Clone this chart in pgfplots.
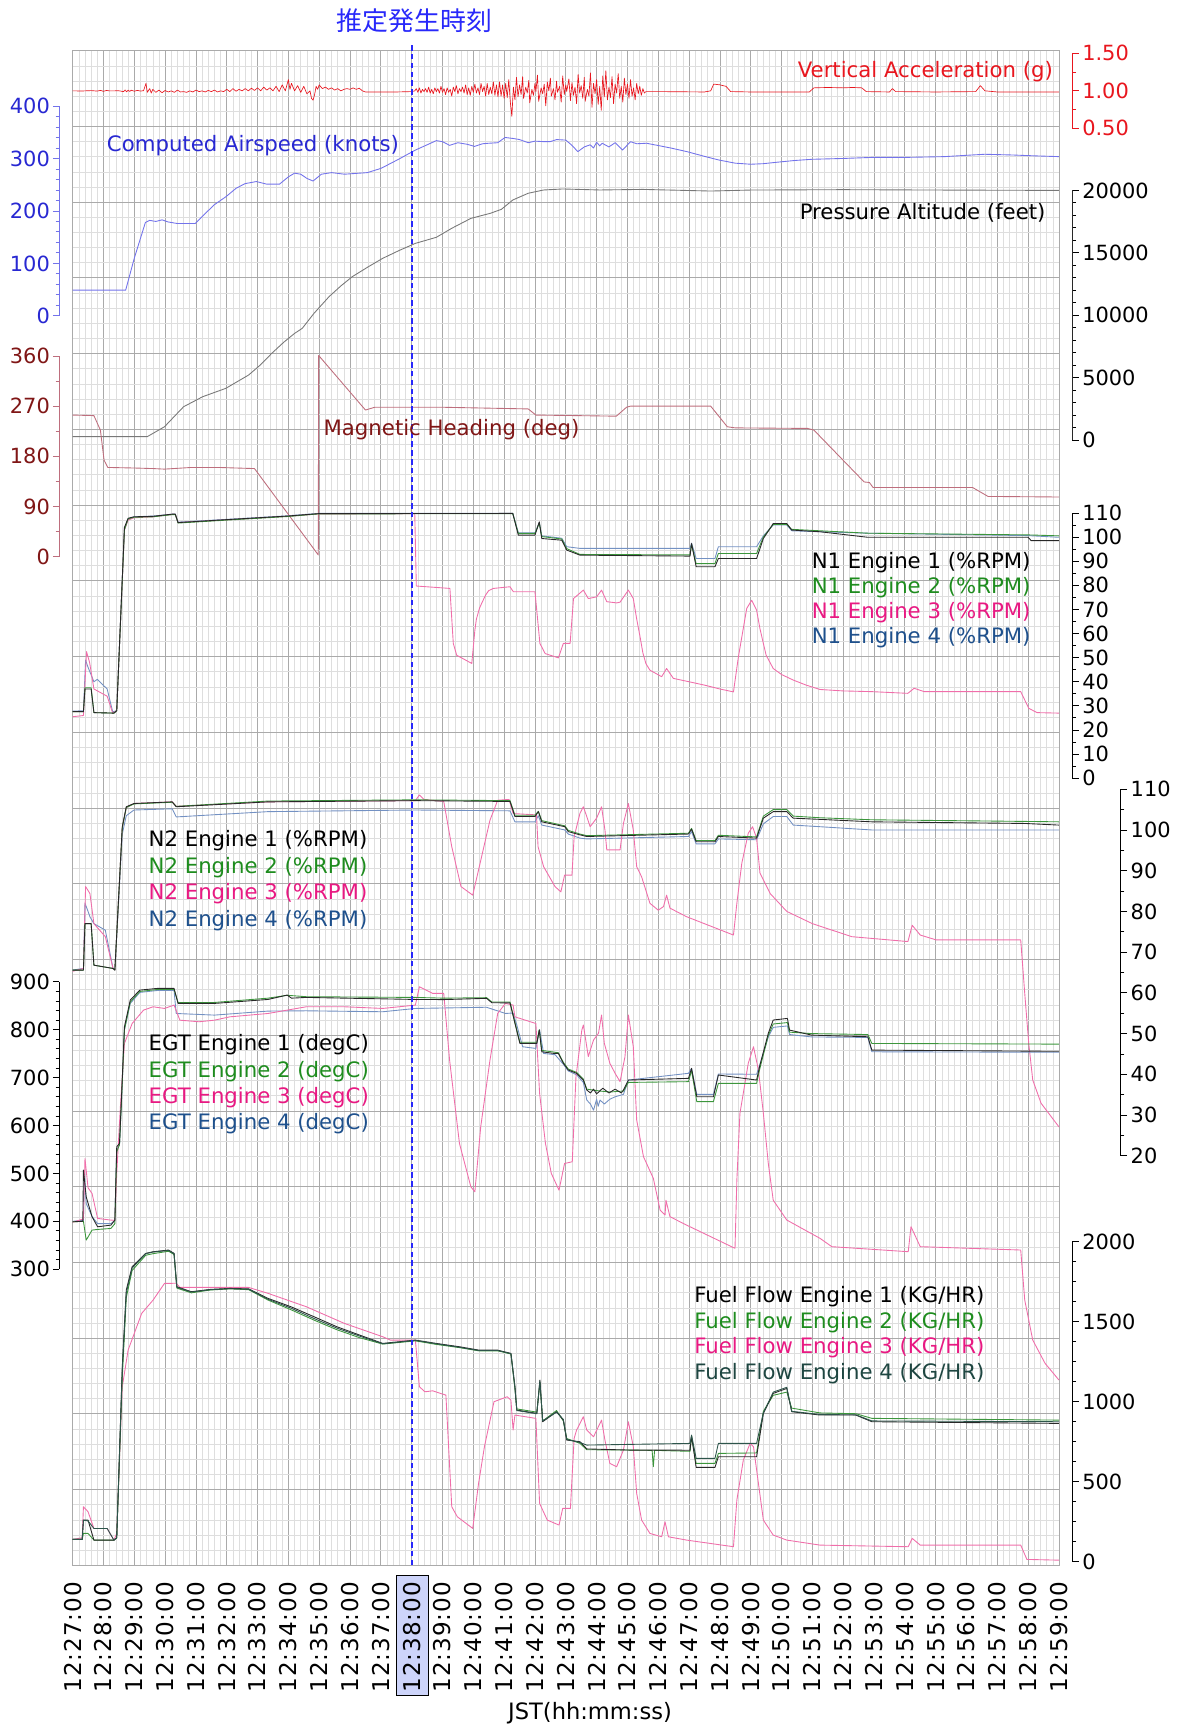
\documentclass[border=0pt]{standalone}
\usepackage{fontspec}
\setmainfont{DejaVu Sans}
\newfontfamily\cjk{Noto Sans CJK JP}
\newfontfamily\tickfont[LetterSpace=4]{DejaVu Sans}
\usepackage{pgfplots}
\pgfplotsset{compat=1.18}
\definecolor{cRed}{RGB}{232,22,30}
\definecolor{cBlueL}{RGB}{115,115,235}
\definecolor{cBlueD}{RGB}{40,40,210}
\definecolor{cAlt}{RGB}{120,120,120}
\definecolor{cHdg}{RGB}{190,110,125}
\definecolor{cHdgD}{RGB}{128,22,22}
\definecolor{cE1}{RGB}{40,40,40}
\definecolor{cE2}{RGB}{60,150,60}
\definecolor{cE2L}{RGB}{30,140,30}
\definecolor{cE3}{RGB}{240,110,170}
\definecolor{cE3L}{RGB}{232,25,130}
\definecolor{cE4}{RGB}{115,145,195}
\definecolor{cE4L}{RGB}{30,80,140}
\definecolor{cFF4}{RGB}{45,85,75}
\definecolor{cFF4L}{RGB}{30,70,65}
\definecolor{gMaj}{RGB}{170,170,170}
\definecolor{gMin}{RGB}{222,222,222}
\definecolor{hlbox}{RGB}{205,212,250}
\definecolor{cTitle}{RGB}{40,40,250}
\pgfplotsset{
  panel/.style={scale only axis, clip=false, axis x line=none, scaled y ticks=false,
    tick align=outside, major tick length=6pt, minor tick length=3.5pt,
    tick label style={font=\fontsize{19}{22}\selectfont}},
  rpanel/.style={panel, axis y line*=right, xmin=0, xmax=32.4286, width=908pt,
    yticklabel style={anchor=west, inner xsep=3pt}},
  lpanel/.style={panel, axis y line*=left, xmin=-0.4286, xmax=32, width=908pt,
    yticklabel style={anchor=east, inner xsep=2.5pt}},
  pcol/.style={y axis line style={#1, line width=0.8pt}, ytick style={#1, line width=0.8pt},
    yticklabel style={#1}},
  ln/.style={line width=0.8pt, line join=round},
}
\newcommand{\lab}{\fontsize{19.3}{23}\selectfont}
\begin{document}
\begin{tikzpicture}
\path[use as bounding box] (0,0) rectangle (1073pt,1568pt);
\draw[fill=hlbox, draw=black, line width=0.8pt] (360.5pt,28pt) rectangle (389.4pt,137pt);
\begin{axis}[at={(66pt,146pt)}, anchor=south west, scale only axis, width=896pt, height=1376pt,
  xmin=0, xmax=32, ymin=0, ymax=20,
  xtick={0,...,32}, ytick={0,...,20}, minor x tick num=4, minor y tick num=4,
  grid=both, major grid style={gMaj, line width=0.7pt}, minor grid style={gMin, line width=0.5pt},
  major tick length=0pt, minor tick length=0pt, yticklabels={},
  axis line style={gMaj, line width=0.8pt},
  xticklabels={12:27:00,12:28:00,12:29:00,12:30:00,12:31:00,12:32:00,12:33:00,12:34:00,12:35:00,12:36:00,12:37:00,12:38:00,12:39:00,12:40:00,12:41:00,12:42:00,12:43:00,12:44:00,12:45:00,12:46:00,12:47:00,12:48:00,12:49:00,12:50:00,12:51:00,12:52:00,12:53:00,12:54:00,12:55:00,12:56:00,12:57:00,12:58:00,12:59:00},
  xticklabel style={rotate=90, anchor=east, font=\tickfont\fontsize{21}{24}\selectfont, inner sep=0pt},
  xticklabel shift=15pt]
\addplot[draw=none] coordinates {(0,0) (32,20)};
\end{axis}
% Vertical acceleration
\begin{axis}[rpanel, pcol=cRed, at={(66pt,1451.4pt)}, anchor=south west, height=68.1pt,
  ymin=0.5, ymax=1.5, ytick={0.5,1,1.5}, yticklabels={0.50,1.00,1.50}, minor y tick num=1]
\addplot[ln, cRed, line width=0.6pt] coordinates {
(0,1.0)(0.3,0.998)(0.6,1.003)(0.8,0.997)(0.9,1.006)(1.0,0.994)(1.1,1.005)(1.2,0.999)(1.5,1.001)(1.65,0.99)(1.7,1.012)(1.75,0.988)(1.8,1.01)(1.85,0.992)(1.9,1.008)(2.0,0.995)(2.1,1.006)(2.2,0.997)(2.3,1.002)(2.38,1.1)(2.42,0.98)
(2.5,1.03)(2.55,0.97)(2.6,1.02)(2.7,0.98)(2.8,1.01)(2.9,0.975)(3.0,1.005)(3.1,0.985)(3.2,1.0)(3.3,0.98)(3.4,1.01)(3.5,0.985)(3.6,0.99)(3.7,0.98)(3.8,1.0)(3.9,0.985)(4.0,1.01)(4.1,0.99)(4.2,1.0)(4.3,0.985)(4.4,1.005)(4.5,0.99)(4.6,1.01)(4.7,0.985)(4.8,1.0)(4.9,0.99)(5.0,1.02)(5.1,0.99)(5.2,1.03)(5.3,0.995)(5.4,1.02)(5.5,1.0)(5.6,1.03)(5.7,1.0)(5.8,1.035)(5.9,1.005)(6.0,1.04)(6.1,1.0)(6.2,1.05)(6.3,1.01)(6.4,1.04)(6.5,1.0)
(6.6,1.06)(6.7,0.99)(6.8,1.08)(6.9,1.0)(7.0,1.15)(7.05,1.02)(7.1,1.1)(7.2,1.0)(7.3,1.07)(7.4,0.98)(7.5,1.06)(7.6,0.96)(7.7,1.0)(7.75,0.9)(7.8,0.875)(7.85,0.95)(7.9,1.06)(7.95,1.02)(8.0,1.08)(8.1,1.03)(8.2,1.05)(8.3,1.02)(8.4,1.04)(8.5,1.01)(8.6,1.03)(8.7,1.0)(8.8,1.02)(8.9,1.03)(9.0,1.02)(9.1,1.04)(9.2,1.02)(9.3,1.035)(9.4,1.0)(9.5,0.985)(10.5,0.985)(11.0,0.99)
(11.1,1.0)(11.15,1.03)(11.2,0.98)(11.25,1.04)(11.3,0.97)(11.35,1.02)(11.4,0.99)(11.45,1.03)(11.5,0.98)(11.55,1.05)(11.6,0.97)(11.65,1.02)(11.7,0.96)(11.75,1.04)(11.8,0.99)(11.85,1.03)(11.9,0.97)(11.95,1.06)(12.0,0.98)(12.05,1.03)(12.1,0.95)(12.15,1.04)(12.2,0.98)(12.25,1.02)(12.3,0.93)(12.35,1.05)(12.4,0.99)(12.45,1.07)(12.5,0.96)(12.55,1.03)(12.6,0.99)(12.65,1.05)(12.7,0.97)(12.75,1.08)(12.8,0.95)(12.85,1.04)(12.9,0.94)(12.95,1.06)(13.0,0.98)(13.05,1.09)(13.1,0.97)(13.15,1.04)(13.2,0.95)(13.25,1.1)(13.3,0.99)(13.35,1.06)(13.4,0.93)(13.45,1.1)(13.5,0.95)(13.55,1.05)(13.6,0.96)(13.65,1.12)(13.7,0.94)(13.75,1.08)(13.8,0.92)(13.85,1.12)(13.9,0.93)(13.95,1.08)(14.0,0.9)(14.05,1.1)(14.1,0.91)(14.15,1.15)(14.2,0.85)(14.25,0.66)(14.3,1.05)(14.35,0.88)(14.4,1.18)
(14.45,0.92)(14.5,1.08)(14.55,0.95)(14.6,1.19)(14.63,0.9)(14.7,1.05)(14.75,0.97)(14.8,1.14)(14.83,0.84)(14.9,1.02)(14.95,0.94)(15.0,1.1)(15.03,0.99)(15.08,1.21)(15.12,0.86)(15.2,1.04)(15.25,0.96)(15.3,1.09)(15.35,0.8)(15.4,1.12)(15.45,1.0)(15.5,1.17)(15.53,0.93)(15.6,1.03)(15.65,0.88)(15.7,1.13)(15.73,0.98)(15.8,1.06)(15.85,0.85)(15.9,1.2)(15.95,0.95)(16.0,1.08)(16.03,0.99)(16.1,1.16)(16.15,0.87)(16.2,1.11)(16.25,0.94)(16.3,1.05)(16.35,0.83)(16.4,1.22)(16.45,0.97)(16.5,1.07)(16.55,0.9)(16.6,1.18)(16.63,0.86)(16.7,1.02)(16.75,0.93)(16.8,1.24)(16.85,0.78)(16.9,1.1)(16.95,0.96)(17.0,1.15)(17.05,0.82)(17.1,1.06)(17.15,0.74)(17.2,1.2)(17.25,0.92)(17.3,1.27)(17.35,0.88)(17.4,1.05)(17.45,0.91)(17.5,1.19)(17.55,0.83)(17.6,1.09)(17.65,0.97)(17.7,1.23)(17.75,0.9)(17.8,1.06)(17.85,0.85)(17.9,1.17)(17.95,0.95)(18.0,1.09)(18.05,0.9)(18.1,1.15)(18.15,0.93)(18.2,1.04)(18.25,0.88)(18.3,1.1)(18.35,0.96)(18.4,1.06)(18.45,0.94)(18.5,1.03)(18.55,0.97)(18.6,0.99)
(19.0,0.99)(20.5,0.985)(20.7,1.0)(20.8,1.09)(21.0,1.08)(21.2,1.06)(21.35,0.99)(22.0,0.985)(23.9,0.985)(24.05,1.04)(24.5,1.045)(25.0,1.04)(25.3,1.045)(25.6,1.04)(25.75,0.99)(26.5,0.985)(26.6,1.03)(26.7,0.99)(28.0,0.985)(29.3,0.99)(29.45,1.07)(29.6,1.0)(30.0,0.985)(32,0.985)};
\end{axis}
% Computed airspeed
\begin{axis}[lpanel, pcol=cBlueD, y axis line style={cBlueL}, ytick style={cBlueL},
  at={(54pt,1281pt)}, anchor=south west, height=190.7pt,
  ymin=0, ymax=400, ytick={0,100,200,300,400}, yticklabels={0,100,200,300,400}, minor y tick num=4]
\addplot[ln, cBlueL] coordinates {
(0,49)(1.72,49)(2.0,110)(2.36,178)(2.5,182)(2.7,180)(2.9,183)(3.1,179)(3.4,176)(3.98,176)(4.3,195)(4.6,212)(4.97,227)(5.3,243)(5.59,252)(5.96,256)(6.3,251)(6.71,251)(7.0,265)(7.2,272)(7.4,270)(7.6,262)(7.8,257)(8.07,270)(8.4,273)(8.82,270)(9.56,273)(10.0,281)(10.56,298)(11.12,316)(11.5,326)(11.8,334)(12.0,332)(12.23,325)(12.5,330)(12.8,327)(13.04,323)(13.3,328)(13.5,329)(13.79,330)(14.03,340)(14.3,338)(14.5,336)(14.78,330)(15.0,333)(15.3,332)(15.49,332)(15.7,336)(16.0,335)(16.2,325)(16.39,313)(16.6,322)(16.79,326)(16.9,320)(17.0,331)(17.1,324)(17.18,329)(17.4,322)(17.6,330)(17.84,316)(18.1,332)(18.3,328)(18.62,329)(18.88,326)(19.4,320)(19.93,313)(20.5,304)(20.97,297)(21.5,291)(22.0,289)(22.4,290)(22.8,292.5)(23.4,296)(23.98,298.4)(25.0,300)(25.93,302)(27,302)(28.29,303.5)(29.0,306)(29.59,308)(30.5,306.6)(31.2,305)(32,303.5)};
\end{axis}
% Pressure altitude
\begin{axis}[rpanel, pcol=black, y axis line style={cE1},
  at={(66pt,1168pt)}, anchor=south west, height=227pt,
  ymin=0, ymax=20000, ytick={0,5000,10000,15000,20000}, yticklabels={0,5000,10000,15000,20000}, minor y tick num=4]
\addplot[ln, cAlt] coordinates {
(0,290)(2.42,290)(2.98,1084)(3.6,2687)(4.22,3489)(4.97,4158)(5.71,5225)(6.1,6050)(6.46,6960)(6.85,7850)(7.2,8555)(7.45,8960)(7.83,10160)(8.32,11498)(8.7,12350)(9.07,13092)(9.6,13900)(10.06,14564)(10.6,15200)(11.12,15762)(11.8,16247)(12.3,16969)(12.92,17762)(13.55,18167)(13.91,18485)(14.28,19233)(14.78,19771)(15.28,20035)(15.9,20115)(17.1,20035)(18.5,20080)(20.7,19950)(22,20030)(25,20060)(28,20030)(32,20000)};
\end{axis}
% Magnetic heading
\begin{axis}[lpanel, pcol=cHdgD, y axis line style={cHdg}, ytick style={cHdg},
  at={(54pt,1062.3pt)}, anchor=south west, height=182.3pt,
  ymin=0, ymax=360, ytick={0,90,180,270,360}, yticklabels={0,90,180,270,360}, minor y tick num=1]
\addplot[ln, cHdg] coordinates {
(0,254)(0.69,253)(0.9,227)(1.02,173)(1.14,160)(2.0,159)(2.61,158)(2.98,157)(3.85,160)(4.72,160)(5.9,158)(7.97,3)(7.98,361)(9.5,263)(9.8,268)(12,268)(14.78,265)(15.03,254)(17.64,252)(17.97,268)(18.1,270)(20.7,270)(21.24,233)(21.5,231)(23.85,230)(24.05,227)(25.68,134)(25.85,133)(25.97,124)(29.2,124)(29.7,108)(32,107)};
\end{axis}
% N1
\begin{axis}[rpanel, pcol=black, at={(66pt,861pt)}, anchor=south west, height=241pt,
  ymin=0, ymax=110, ytick={0,10,...,110}, yticklabels={0,10,20,30,40,50,60,70,80,90,100,110}, minor y tick num=1]
\addplot[ln, cE4] coordinates {
(0,27.8)(0.35,28)(0.42,49)(0.5,46)(0.69,40)(0.8,41)(1.12,37)(1.3,27.5)(1.43,28)(1.68,103.5)(1.8,107.5)(1.99,108.4)(2.61,108.7)(3.23,109.5)(3.33,109.5)(3.42,106.2)(5.09,107.4)(6.96,108.8)(7.97,109.8)(14.28,109.8)(14.46,101.8)(15.0,101.8)(15.14,106)(15.22,100.5)(15.87,99.5)(16.03,96)(16.46,95.3)(20.03,95.3)(20.08,97.5)(20.23,91.1)(20.84,91.1)(20.95,96)(22.19,96)(22.41,100.5)(22.73,105)(23.17,105)(23.33,102.6)(24.25,102.2)(25.8,101.6)(31.0,100.6)(32,99.9)};
\addplot[ln, cE3] coordinates {
(0,25.5)(0.35,26)(0.45,52.5)(0.55,48)(0.69,37)(1.12,34)(1.3,27)(1.43,28)(1.68,103)(1.8,107)(1.99,108)(2.61,108.4)(3.23,109.4)(3.33,109.4)(3.42,106)(5.09,107.2)(6.96,108.6)(7.97,109.6)(11.1,109.7)(11.15,79.7)(12.24,78.7)(12.35,55.9)(12.46,51)(12.95,47.6)(13.05,61.4)(13.1,66)(13.2,70.5)(13.27,72.5)(13.4,76)(13.5,77.8)(13.65,78.7)(14.19,79.4)(14.3,77.3)(15.0,77.3)(15.16,55.9)(15.33,51.7)(15.76,49.9)(15.92,55.9)(16.14,55.9)(16.25,74.5)(16.57,78)(16.73,74.5)(17.0,75.2)(17.16,78)(17.33,73.2)(17.65,72.7)(17.76,73)(18.03,78)(18.19,74.5)(18.3,66)(18.41,58.6)(18.5,52)(18.6,47.5)(18.73,44.8)(19.11,42.1)(19.27,45.5)(19.49,41.4)(20.0,40)(20.5,38.6)(21.0,37)(21.44,35.8)(21.6,50.3)(21.87,70.4)(22.03,73.8)(22.19,69.7)(22.3,62)(22.41,55.9)(22.5,51)(22.73,45.5)(23.0,43)(23.38,40.7)(23.8,38.6)(24.25,36.8)(25,36.2)(25.93,35.9)(27.1,35.2)(27.3,37.3)(27.63,35.9)(30.76,35.9)(31.02,29)(31.29,27.2)(32,27)};
\addplot[ln, cE2] coordinates {
(0,27.6)(0.35,27.6)(0.4,37.5)(0.6,37.5)(0.69,27.2)(1.34,27)(1.43,28)(1.68,103)(1.8,107.5)(1.99,108.2)(2.61,108.4)(3.23,109.3)(3.33,109.3)(3.42,105.8)(5.09,107.1)(6.96,108.5)(7.97,109.6)(14.28,109.7)(14.46,101.5)(15.0,101.5)(15.14,105.8)(15.22,100.2)(15.87,99.2)(16.03,95.2)(16.46,92.8)(20.03,92.6)(20.08,97)(20.23,89)(20.84,89)(20.95,93.2)(22.19,93.2)(22.41,100)(22.73,105.2)(23.17,105.2)(23.33,103.2)(24.25,102.6)(25.8,101.6)(31.0,100.9)(32,100.5)};
\addplot[ln, cE1] coordinates {
(0,27.6)(0.35,27.6)(0.4,37)(0.6,37)(0.69,27.2)(1.34,27)(1.43,28)(1.68,104)(1.8,107.8)(1.99,108.4)(2.61,108.6)(3.23,109.5)(3.33,109.5)(3.42,106)(5.09,107.3)(6.96,108.7)(7.97,109.7)(14.28,109.8)(14.46,100.8)(15.0,100.8)(15.14,106.3)(15.22,99.4)(15.87,98.7)(16.03,94.6)(16.46,92.5)(20.03,92.1)(20.08,97.3)(20.23,87.7)(20.84,87.7)(20.95,91.1)(22.19,91.1)(22.41,99.4)(22.73,105.6)(23.17,105.6)(23.33,102.9)(24.25,102.2)(25.8,99.9)(31.0,99.9)(31.1,98.5)(32,98.5)};
\end{axis}
% N2
\begin{axis}[rpanel, pcol=black, xmax=34, width=952pt, at={(66pt,518pt)}, anchor=south west, height=333pt,
  ymin=20, ymax=110, ytick={20,30,...,110}, yticklabels={20,30,40,50,60,70,80,90,100,110}, minor y tick num=1]
\addplot[ln, cE4] coordinates {
(0,65.6)(0.35,66)(0.4,82)(0.5,80)(0.56,78.7)(0.69,77)(1.06,75.4)(1.31,66)(1.37,65.6)(1.61,99)(1.74,103.5)(1.99,104.9)(3.23,105.2)(3.36,103.2)(6.34,104.5)(11.12,104.9)(14.19,104.7)(14.35,102)(15.0,102)(15.11,103.5)(15.22,101.2)(15.97,100)(16.08,99)(16.46,98)(16.68,97.8)(19.98,98.4)(20.08,99.6)(20.23,96.6)(20.84,96.6)(20.95,97.8)(22.19,97.6)(22.41,101.5)(22.73,103.3)(23.17,103.3)(23.38,101.2)(24.25,100.8)(25.93,100)(32,100)};
\addplot[ln, cE3] coordinates {
(0,65.3)(0.35,66)(0.42,86.1)(0.56,84.4)(0.69,77)(1.06,73.8)(1.31,66)(1.37,65.6)(1.61,100.5)(1.74,105.5)(1.99,106.5)(3.23,106.9)(3.36,105.8)(6.34,106.9)(11.12,107.2)(11.25,108.6)(11.4,107.5)(12.04,107)(12.3,95.9)(12.6,86.1)(12.98,84)(13.17,90.2)(13.54,102.4)(13.79,107.3)(14.16,107.5)(14.29,104.1)(14.35,104)(15.05,103.7)(15.1,95.9)(15.28,91)(15.65,86.1)(15.84,84.8)(15.96,88.9)(16.2,88.9)(16.27,98.3)(16.46,104.1)(16.57,105.7)(16.68,103.3)(16.79,100.8)(17.0,102.9)(17.16,105.7)(17.27,100)(17.33,95.1)(17.76,95.1)(17.87,101.6)(18.03,106.5)(18.19,100)(18.3,91)(18.46,88.5)(18.73,82)(19.0,80.3)(19.17,81.2)(19.27,84)(19.38,80.8)(19.92,78.7)(21.44,74.2)(21.55,82)(21.71,91.8)(21.92,99.2)(22.06,100.8)(22.19,98)(22.3,89.4)(22.63,84.4)(23.17,80)(24.0,77)(25.28,73.8)(27.1,72.6)(27.24,76.6)(27.5,74.2)(28.02,73)(30.76,73)(30.89,59.9)(31.02,47.6)(31.15,38.6)(31.42,32.9)(32,27.1)};
\addplot[ln, cE2] coordinates {
(0,65.6)(0.35,65.6)(0.4,77)(0.6,77)(0.69,66.8)(1.31,66)(1.37,65.6)(1.61,100.5)(1.74,105.5)(1.99,106.4)(3.23,106.8)(3.36,105.8)(6.34,107.1)(11.12,107.4)(14.19,107.2)(14.35,103.6)(15.0,103.6)(15.11,104.6)(15.22,102.3)(15.97,101)(16.08,99.9)(16.46,99)(16.68,98.6)(19.98,99.2)(20.08,100.4)(20.23,97.4)(20.84,97.4)(20.95,98.7)(22.19,98.3)(22.41,103.4)(22.73,105)(23.17,105)(23.38,103.4)(24.25,103)(25.93,102.5)(30.89,102.1)(32,102)};
\addplot[ln, cE1] coordinates {
(0,65.6)(0.35,65.6)(0.4,77)(0.6,77)(0.69,66.8)(1.31,66)(1.37,65.6)(1.61,100.8)(1.74,105.7)(1.99,106.5)(3.23,106.9)(3.36,105.7)(6.34,106.9)(11.12,107.2)(14.19,107)(14.35,103.3)(15.0,103.3)(15.11,104.5)(15.22,102)(15.97,100.8)(16.08,99.6)(16.46,98.8)(16.68,98.4)(19.98,99)(20.08,100.2)(20.23,97.1)(20.84,97.1)(20.95,98.4)(22.19,98)(22.41,102.9)(22.73,104.5)(23.17,104.5)(23.38,102.9)(24.25,102.6)(25.93,102)(30.89,101.6)(32,101.2)};
\end{axis}
% EGT
\begin{axis}[lpanel, pcol=black, at={(54pt,415pt)}, anchor=south west, height=261pt,
  ymin=300, ymax=900, ytick={300,400,...,900}, yticklabels={300,400,500,600,700,800,900}, minor y tick num=4]
\addplot[ln, cE4] coordinates {
(0,400)(0.35,402)(0.38,505)(0.44,437)(0.63,410)(0.81,395)(1.24,395)(1.37,402)(1.43,550)(1.52,560)(1.59,660)(1.68,800)(1.87,855)(2.18,878)(2.74,882)(3.29,882)(3.36,834)(4.6,830.6)(6.34,839)(7.58,839.6)(10.06,837.6)(11.12,844.5)(13.43,847)(14.04,834)(14.29,835)(14.41,810)(14.6,764.5)(15.03,761)(15.15,800)(15.28,750.5)(15.65,748)(15.92,728)(16.08,714)(16.35,706)(16.57,690)(16.68,653.2)(16.8,645)(16.9,632)(17.0,655)(17.05,640)(17.11,653.2)(17.25,645)(17.43,655)(17.6,660)(17.87,665)(18.03,695)(19.98,709)(20.08,719.4)(20.25,665)(20.79,665)(20.95,707.6)(22.19,707)(22.3,728)(22.57,785)(22.73,805)(23.19,808)(23.26,790)(23.98,785)(25.8,784)(25.93,754)(32,753)};
\addplot[ln, cE3] coordinates {
(0,398)(0.35,405)(0.4,531)(0.5,470)(0.63,458)(0.81,406)(1.24,402.5)(1.37,402)(1.43,500)(1.55,640)(1.68,771.4)(1.93,813)(2.3,841)(2.61,848)(2.98,844.5)(3.29,851.5)(3.48,820)(4.1,816.7)(4.6,820)(5.1,827)(6.34,834)(7.58,848)(8.82,848)(10.06,844.5)(11.12,851.5)(11.25,889.8)(11.68,876)(12.04,876)(12.23,736.6)(12.55,562.6)(12.92,472)(13.05,461.6)(13.24,597.4)(13.54,736.6)(13.79,834)(14.04,855)(14.29,851.5)(14.35,827)(15.03,813)(15.15,667)(15.34,562.6)(15.53,500)(15.78,465)(15.96,520.8)(16.21,524.3)(16.33,701.8)(16.52,799.3)(16.57,810)(16.73,744)(16.9,778.6)(17.06,792.5)(17.16,830.8)(17.25,771.6)(17.43,730)(17.6,709)(17.76,691.6)(17.92,743.8)(18.03,830.8)(18.19,764.6)(18.3,611.5)(18.52,535)(18.84,489.7)(19.06,423.5)(19.22,413)(19.25,444)(19.38,409.6)(19.92,392)(21.49,343.5)(21.55,486)(21.65,625.4)(21.92,730)(22.09,764.6)(22.25,716)(22.41,625.4)(22.57,521)(22.73,444)(23.17,402.6)(24.25,364.3)(24.63,347)(27.11,336.5)(27.2,388.7)(27.5,347)(30.76,340)(30.89,235.6)(31.15,152)(31.55,103.3)(32,68.5)};
\addplot[ln, cE2] coordinates {
(0,398.9)(0.35,400)(0.44,360.7)(0.63,381.6)(0.81,383)(1.24,385)(1.37,395)(1.43,545)(1.52,560)(1.59,660)(1.68,800)(1.87,858)(2.18,880)(2.74,884)(3.29,884)(3.42,857)(4.6,857)(6.34,866)(6.96,872)(7.58,869)(11.12,867.5)(12.04,866)(13.43,867)(13.6,858)(14.19,858)(14.35,815)(14.51,774)(15.06,774)(15.14,800)(15.22,757)(15.76,752)(15.92,732)(16.08,718)(16.35,711)(16.57,697)(16.68,676)(17.11,672)(17.43,670)(17.87,672)(18.03,690)(19.98,691.6)(20.08,715)(20.25,649.8)(20.79,649.8)(20.95,688)(22.19,688)(22.3,720)(22.57,788)(22.73,812)(23.19,815)(23.26,795)(23.98,792)(25.8,790)(25.93,771.4)(32,770)};
\addplot[ln, cE1] coordinates {
(0,398.9)(0.33,400)(0.35,507)(0.44,451)(0.63,409.4)(0.81,388.5)(1.24,392)(1.37,402.5)(1.43,555.7)(1.52,562.6)(1.59,667)(1.68,806.3)(1.87,862)(2.18,882.8)(2.74,886.3)(3.29,886.3)(3.42,855)(4.6,855)(6.34,863.3)(6.96,872.4)(7.1,866)(7.58,867.5)(11.12,863.3)(12.04,863)(13.43,865.6)(13.6,856.5)(14.19,856)(14.35,813.4)(14.51,771.6)(15.06,771.6)(15.14,799.5)(15.22,754)(15.6,750.7)(15.76,750.7)(15.92,730)(16.08,716)(16.35,709)(16.57,695)(16.68,674.2)(16.8,668)(16.9,676)(17.0,666)(17.2,678)(17.4,668)(17.6,676)(17.8,668)(17.87,674)(18.03,695)(19.98,698.5)(20.08,719.4)(20.25,660.2)(20.79,660.2)(20.95,705.5)(22.19,695)(22.3,726.4)(22.57,792.5)(22.73,820.3)(23.19,823.7)(23.26,799.3)(23.98,788.8)(25.8,785.4)(25.93,757.5)(32,755)};
\end{axis}
% Fuel flow
\begin{axis}[rpanel, pcol=black, at={(66pt,149.2pt)}, anchor=south west, height=290.8pt,
  ymin=0, ymax=2000, ytick={0,500,...,2000}, yticklabels={0,500,1000,1500,2000}, minor y tick num=3]
\addplot[ln, cE3] coordinates {
(0,139.6)(0.31,150)(0.35,343.7)(0.5,312.5)(0.69,208)(1.12,208)(1.34,135)(1.43,177)(1.61,1093.6)(1.8,1322.7)(2.24,1552)(2.61,1635)(2.98,1739.3)(3.36,1740)(3.48,1714.3)(5.71,1714)(6.34,1677)(7.58,1593.5)(8.82,1489)(10.06,1406)(10.31,1385)(11.12,1385)(11.25,1093.6)(11.43,1062)(11.68,1068)(11.93,1052)(12.11,1041.5)(12.3,343.7)(12.48,281.3)(12.98,208.4)(13.17,489.6)(13.36,718.6)(13.67,1000)(14.1,1031)(14.22,1010)(14.29,823)(14.35,916.6)(15.03,895.7)(15.15,364.6)(15.4,260.4)(15.78,229.2)(15.9,333.3)(16.15,333.3)(16.27,770.7)(16.35,823)(16.57,906)(16.68,823)(16.9,781)(17.16,885)(17.27,760)(17.43,614.6)(17.65,593.7)(17.87,697.8)(18.03,875)(18.19,718.6)(18.3,427)(18.46,260.4)(18.73,177)(19.11,156.3)(19.22,250)(19.33,156)(19.92,135.4)(21.44,94)(21.55,385.4)(21.76,635.4)(21.98,739.5)(22.09,718.6)(22.25,489.6)(22.41,260.4)(22.73,166.7)(23.17,135.4)(24.25,104)(27.11,94)(27.24,146)(27.5,104)(30.76,104)(30.96,14.6)(32,10)};
\addplot[ln, cE2] coordinates {
(0,139.6)(0.31,140)(0.35,177)(0.5,177)(0.69,135.4)(1.34,135)(1.43,150)(1.61,1150)(1.74,1650)(1.93,1820)(2.37,1915)(2.61,1925)(3.11,1940)(3.29,1920)(3.38,1710)(3.85,1680)(4.47,1698)(5.1,1705)(5.71,1700)(6.34,1635)(7.08,1575)(7.83,1510)(8.57,1450)(9.31,1400)(10.06,1360)(11.12,1380)(11.8,1358)(12.55,1338)(13.17,1318)(13.79,1318)(14.22,1298)(14.35,1080)(14.41,955)(15.06,935)(15.16,1120)(15.25,880)(15.7,945)(15.92,880)(16.03,770)(16.46,740)(16.68,700)(18.09,697.8)(18.8,696)(18.84,594)(18.88,696)(20.03,690)(20.08,780)(20.23,614.6)(20.84,614.6)(20.95,677)(22.19,680)(22.41,940)(22.73,1040)(23.17,1060)(23.33,960)(24.25,930)(25.41,925)(25.93,896)(32,885)};
\addplot[ln, cE1] coordinates {
(0,139.6)(0.31,140)(0.35,260)(0.5,260)(0.69,135.4)(1.34,135)(1.43,150)(1.61,1218.6)(1.74,1697.6)(1.93,1843.4)(2.37,1926.7)(2.61,1937)(3.11,1947.6)(3.29,1926.7)(3.38,1718.4)(3.85,1687.2)(4.47,1701.8)(5.1,1708)(5.71,1705)(6.34,1645.5)(7.08,1593.5)(7.83,1531)(8.57,1468.5)(9.31,1416.4)(10.06,1364.3)(11.12,1385)(11.8,1364)(12.55,1343.5)(13.17,1322.7)(13.79,1322)(14.22,1301.8)(14.35,1093.6)(14.41,947.8)(15.06,927)(15.16,1135)(15.25,875)(15.7,937.4)(15.92,885)(16.03,760.3)(16.46,750)(16.68,705)(18.09,697.8)(20.03,697)(20.08,785)(20.23,590)(20.84,590)(20.95,656)(22.19,656)(22.41,927)(22.73,1052)(23.17,1083)(23.33,937.4)(24.25,916.6)(25.41,916.6)(25.93,875)(32,864.5)};
\addplot[ln, cFF4] coordinates {
(0,139.6)(0.31,140)(0.35,260)(0.5,255)(0.69,208)(1.12,208)(1.34,135)(1.43,150)(1.61,1200)(1.74,1680)(1.93,1835)(2.37,1925)(2.61,1935)(3.11,1945)(3.29,1925)(3.38,1715)(3.85,1685)(4.47,1700)(5.1,1706)(5.71,1703)(6.34,1640)(7.08,1585)(7.83,1520)(8.57,1460)(9.31,1410)(10.06,1362)(11.12,1383)(11.8,1362)(12.55,1340)(13.17,1320)(13.79,1320)(14.22,1300)(14.35,1090)(14.41,945)(15.06,925)(15.16,1130)(15.25,880)(15.7,935)(15.92,890)(16.03,765)(16.46,745)(16.68,729)(20.03,739.5)(20.08,791.6)(20.23,645.8)(20.84,645.8)(20.95,739.5)(22.19,739.5)(22.41,930)(22.73,1060)(23.17,1090)(23.33,940)(24.25,920)(25.41,918)(25.93,880)(32,875)};
\end{axis}
\draw[cTitle, line width=1.5pt, dash pattern=on 5pt off 3pt] (374pt,146pt) -- (374pt,1527pt);
\node[cTitle, font=\cjk\fontsize{23.5}{26}\selectfont, inner sep=0pt] at (376.5pt,1549.5pt) {推定発生時刻};
\node[font=\fontsize{20.5}{24}\selectfont, inner sep=0pt] at (536pt,12pt) {JST(hh:mm:ss)};
\begin{scope}[every node/.style={inner sep=0pt, font=\lab}]
\node[anchor=east, cRed] at (956.7pt,1502.9pt) {Vertical Acceleration (g)};
\node[anchor=west, cBlueD] at (97pt,1435.4pt) {Computed Airspeed (knots)};
\node[anchor=east, black] at (950pt,1374.2pt) {Pressure Altitude (feet)};
\node[anchor=west, cHdgD] at (293.8pt,1177.3pt) {Magnetic Heading (deg)};
\node[anchor=west, black] at (737.3pt,1056.8pt) {N1 Engine 1 (\%RPM)};
\node[anchor=west, cE2L] at (737.3pt,1034pt) {N1 Engine 2 (\%RPM)};
\node[anchor=west, cE3L] at (737.3pt,1011.2pt) {N1 Engine 3 (\%RPM)};
\node[anchor=west, cE4L] at (737.3pt,988.4pt) {N1 Engine 4 (\%RPM)};
\node[anchor=west, black] at (134.9pt,804pt) {N2 Engine 1 (\%RPM)};
\node[anchor=west, cE2L] at (134.9pt,780pt) {N2 Engine 2 (\%RPM)};
\node[anchor=west, cE3L] at (134.9pt,756pt) {N2 Engine 3 (\%RPM)};
\node[anchor=west, cE4L] at (134.9pt,732pt) {N2 Engine 4 (\%RPM)};
\node[anchor=west, black] at (134.9pt,618.6pt) {EGT Engine 1 (degC)};
\node[anchor=west, cE2L] at (134.9pt,594.9pt) {EGT Engine 2 (degC)};
\node[anchor=west, cE3L] at (134.9pt,571.2pt) {EGT Engine 3 (degC)};
\node[anchor=west, cE4L] at (134.9pt,547.5pt) {EGT Engine 4 (degC)};
\node[anchor=west, black] at (630.5pt,390pt) {Fuel Flow Engine 1 (KG/HR)};
\node[anchor=west, cE2L] at (630.5pt,366.7pt) {Fuel Flow Engine 2 (KG/HR)};
\node[anchor=west, cE3L] at (630.5pt,343.3pt) {Fuel Flow Engine 3 (KG/HR)};
\node[anchor=west, cFF4L] at (630.5pt,320pt) {Fuel Flow Engine 4 (KG/HR)};
\end{scope}
\end{tikzpicture}
\end{document}
